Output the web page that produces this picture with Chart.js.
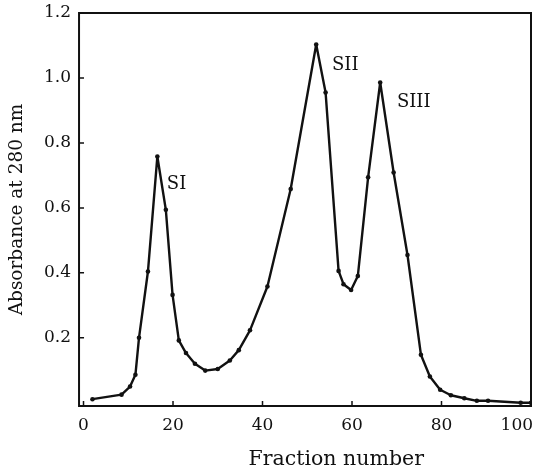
<!DOCTYPE html>
<html>
<head>
<meta charset="utf-8">
<script src="https://cdn.jsdelivr.net/npm/chart.js"></script>
<style>
    html, body { margin: 0; padding: 0; background: #fff; }
    #marco { width: 535px; height: 469px; }
</style>
</head>
<body>
<div id="marco"><canvas id="graficaElucion"></canvas></div>
<script>
// ==============================
// DATOS
// ==============================
const fracciones = [
    2.0, 8.5, 10.4, 11.6, 12.4, 14.4, 16.5, 18.4, 19.9, 21.3,
    22.9, 24.9, 27.2, 30.0, 32.7, 34.7, 37.2, 41.1, 46.3, 52.0,
    54.1, 57.0, 58.1, 59.8, 61.3, 63.6, 66.3, 69.3, 72.4, 75.4,
    77.4, 79.7, 82.1, 85.1, 87.9, 90.4, 97.7, 100
];
const absorbancia = [
    0.011, 0.025, 0.050, 0.086, 0.200, 0.404, 0.758, 0.594, 0.332, 0.192,
    0.153, 0.120, 0.099, 0.104, 0.130, 0.162, 0.223, 0.358, 0.658, 1.103,
    0.955, 0.406, 0.365, 0.347, 0.390, 0.694, 0.986, 0.709, 0.455, 0.148,
    0.081, 0.040, 0.023, 0.014, 0.006, 0.006, 0.000, 0.000
];
const marcasX = [0, 20, 40, 60, 80, 100];
const marcasY = [0.2, 0.4, 0.6, 0.8, 1.0, 1.2];

// etiquetas de los picos
const picos = ["SI", "SII", "SIII"];
const picosX = [20.8, 58.5, 73.8];
const picosY = [0.671, 1.038, 0.925];

const fuente = "'DejaVu Serif', serif";
const tinta = "#111";

// ==============================
// MARCO, MARCAS Y NOMBRES
// ==============================
const marcoGrafica = {
    id: "marcoGrafica",
    afterDatasetsDraw(chart) {
        const { ctx, chartArea: a, scales: { x, y } } = chart;
        ctx.save();
        ctx.strokeStyle = tinta;
        ctx.lineWidth = 2;
        ctx.strokeRect(a.left, a.top, a.right - a.left, a.bottom - a.top);

        ctx.lineWidth = 1.5;
        ctx.beginPath();
        marcasY.forEach(v => {
            const py = y.getPixelForValue(v);
            ctx.moveTo(a.left, py);
            ctx.lineTo(a.left + 5, py);
        });
        marcasX.forEach(v => {
            const px = x.getPixelForValue(v);
            ctx.moveTo(px, a.bottom);
            ctx.lineTo(px, a.bottom - 5);
        });
        ctx.stroke();

        ctx.fillStyle = tinta;
        ctx.font = "18px " + fuente;
        ctx.textAlign = "center";
        ctx.textBaseline = "middle";
        picos.forEach((nombre, i) => {
            ctx.fillText(nombre, x.getPixelForValue(picosX[i]), y.getPixelForValue(picosY[i]));
        });
        ctx.restore();
    }
};

// ==============================
// GRÁFICA
// ==============================
new Chart(document.getElementById("graficaElucion"), {
    type: "line",
    data: {
        datasets: [{
            data: fracciones.map((f, i) => ({ x: f, y: absorbancia[i] })),
            borderColor: tinta,
            borderWidth: 2.4,
            borderJoinStyle: "round",
            tension: 0,
            pointRadius: 2.3,
            pointBorderWidth: 0,
            pointBackgroundColor: tinta
        }]
    },
    options: {
        responsive: true,
        maintainAspectRatio: false,
        animation: false,
        layout: {
            padding: { left: 5.9, top: 13, right: 2.5, bottom: 0 }
        },
        plugins: {
            legend: { display: false },
            tooltip: { enabled: false }
        },
        scales: {
            x: {
                type: "linear",
                min: -1,
                max: 100,
                afterBuildTicks: s => { s.ticks = marcasX.map(v => ({ value: v })); },
                afterFit: s => { s.paddingRight = 0; },
                grid: { display: false, drawTicks: false },
                border: { display: false },
                ticks: {
                    autoSkip: false,
                    maxRotation: 0,
                    padding: 9,
                    color: tinta,
                    font: { family: fuente, size: 17 },
                    callback: v => v === 100 ? "100\u2007\u2007\u2009\u2009" : String(v)
                },
                title: {
                    display: true,
                    // espacios delante para correr el título a la derecha, como en el original
                    text: "\u2007\u2007\u2007\u2007\u2002Fraction number",
                    color: tinta,
                    font: { family: fuente, size: 20.5 },
                    padding: { top: 3.3, bottom: -3.3 }
                }
            },
            y: {
                min: -0.01,
                max: 1.2,
                afterBuildTicks: s => { s.ticks = marcasY.map(v => ({ value: v })); },
                afterFit: s => { s.paddingTop = 0; s.paddingBottom = 0; },
                grid: { display: false, drawTicks: false },
                border: { display: false },
                ticks: {
                    padding: 8,
                    color: tinta,
                    font: { family: fuente, size: 17 },
                    callback: v => v.toFixed(1)
                },
                title: {
                    display: true,
                    text: "Absorbance at 280 nm",
                    color: tinta,
                    font: { family: fuente, size: 18.5 },
                    padding: { top: 0, bottom: 7.9 }
                }
            }
        }
    },
    plugins: [marcoGrafica]
});
</script>
</body>
</html>
